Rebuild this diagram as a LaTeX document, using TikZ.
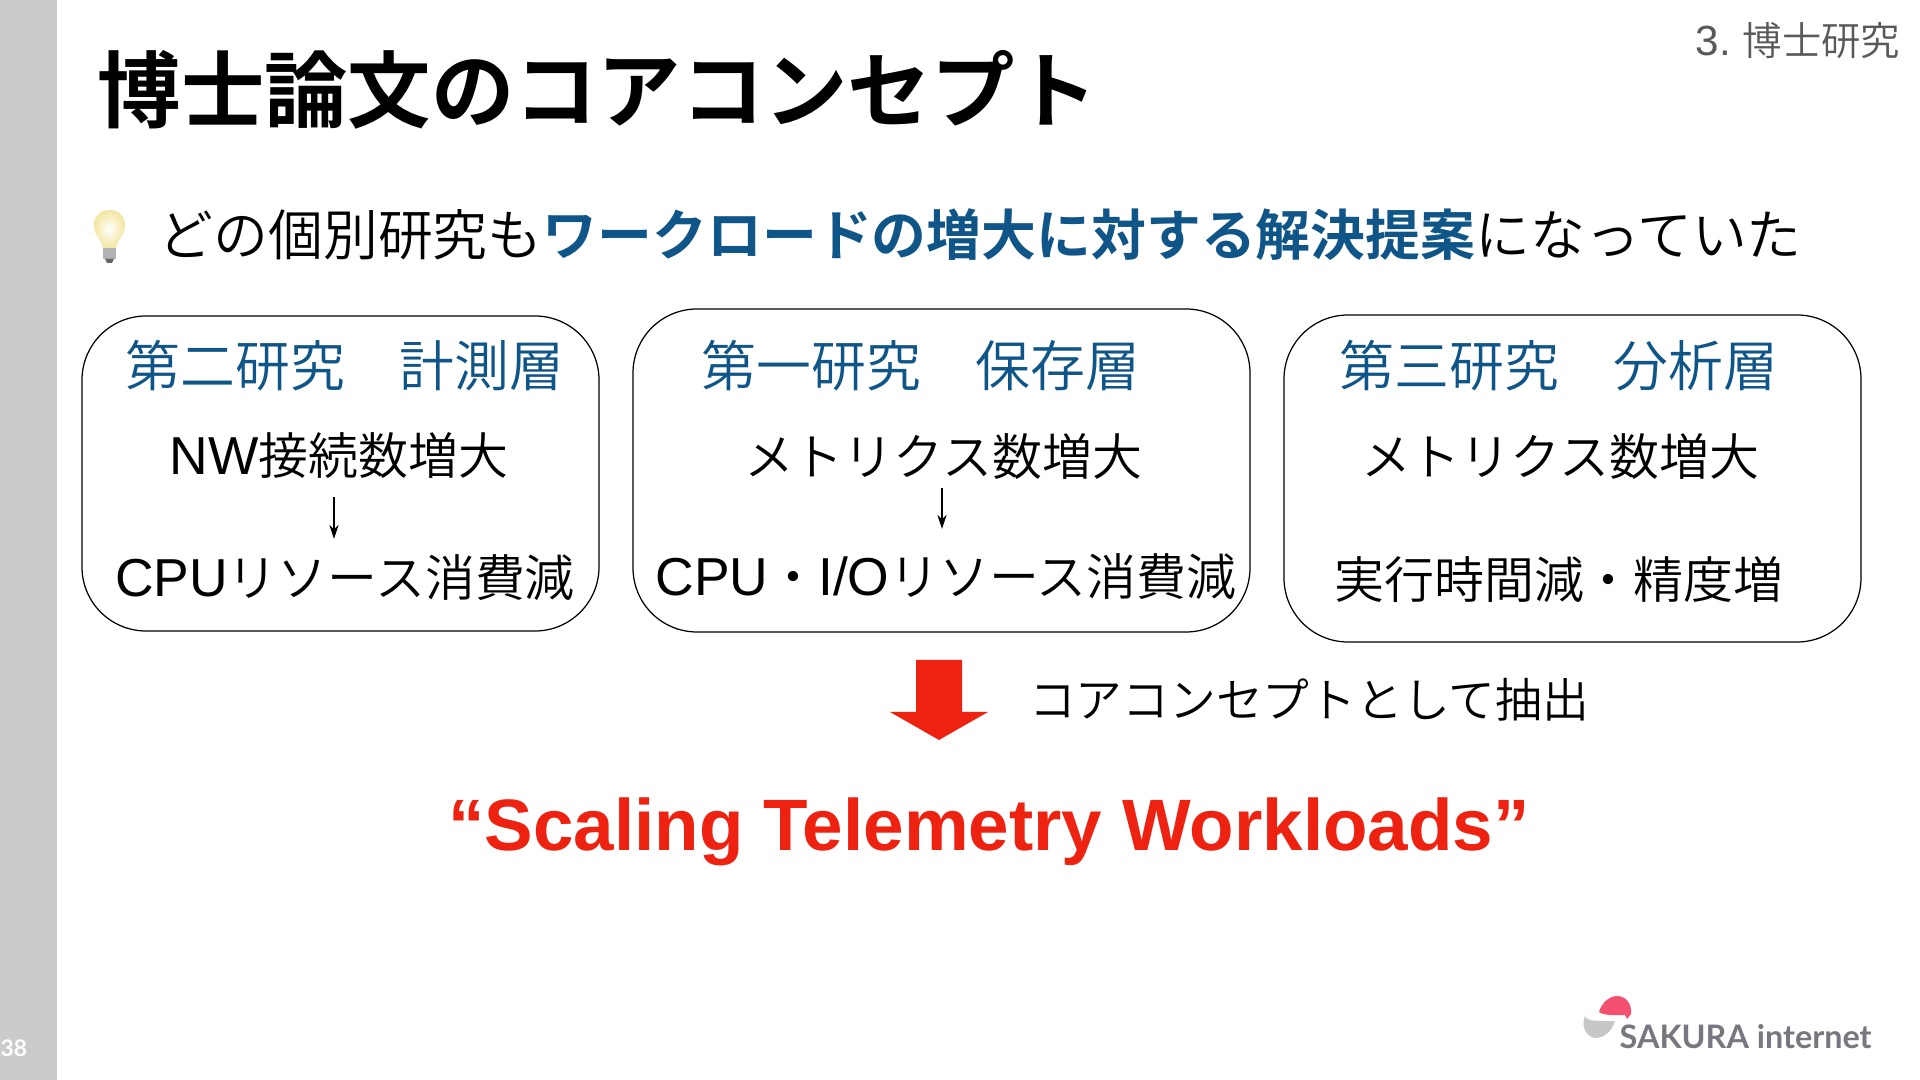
\documentclass[tikz,border=0pt]{standalone}
\usepackage{fontspec}
\setmainfont{Noto Sans CJK JP DemiLight}
\newfontfamily\medjp{Noto Sans CJK JP Medium}
\newfontfamily\boldjp{Noto Sans CJK JP Bold}
\newfontfamily\lat[Scale=1.07]{Liberation Sans}
\newfontfamily\latb{Liberation Sans}
\newfontfamily\logofont{Lato}
\definecolor{deepblue}{HTML}{0F5587}
\definecolor{hotred}{HTML}{EE2211}
\definecolor{sidegray}{HTML}{CBCBCD}
\definecolor{logogray}{HTML}{77777F}
\definecolor{logopink}{HTML}{F45070}
\definecolor{bulbedge}{HTML}{F3E6A0}
\definecolor{bulbmid}{HTML}{FDF9DC}
\newcommand{\fs}[1]{\fontsize{#1}{#1}\selectfont}
\usetikzlibrary{arrows.meta}
\tikzset{
  card/.style={draw=black,line width=0.35pt,rounded corners=0.64cm},
  headtxt/.style={inner sep=0pt,text=deepblue,font=\fs{15.6}},
  bodytxt/.style={inner sep=0pt,text=black,font=\fs{14.2}},
  thinarrow/.style={draw=black,line width=0.4pt,-{Stealth[length=4pt,width=2.6pt]}}
}
\begin{document}
\begin{tikzpicture}[x=0.01cm,y=-0.01cm]
\useasboundingbox (0,0) rectangle (1920,1080);
\fill[white] (0,0) rectangle (1920,1080);
\fill[sidegray] (0,0) rectangle (57,1080);
\node[inner sep=0pt,text=white,font=\logofont\bfseries\fs{6.5}] (pagenum) at (14,1048) {38};
\node[inner sep=0pt,anchor=west,font=\boldjp\fs{23.7}] (title) at (97,90) {博士論文のコアコンセプト};
\node[inner sep=0pt,anchor=east,text=black!65,font=\fs{11.2}] (section) at (1901,41) {{\lat 3.} 博士研究};
% bulb
\shade[inner color=white,middle color=bulbmid,outer color=bulbedge]
  (103,248) .. controls (102,240) and (94,236) .. (94,225)
  .. controls (94,216) and (101,210) .. (109.5,210)
  .. controls (118,210) and (125,216) .. (125,225)
  .. controls (125,236) and (117,240) .. (116,248) -- cycle;
\fill[black!30] (103,248) rectangle (116,259);
\fill[black!60] (105,259) -- (114,259) -- (112,263) -- (107,263) -- cycle;
% subtitle
\node[inner sep=0pt,anchor=west,font=\fs{15.6}] (subtitle) at (158,235)
  {どの個別研究も{\boldjp\color{deepblue}ワークロードの増大に対する解決提案}になっていた};
% cards
\draw[card] (82,316) rectangle (599,631);
\draw[card] (633,309) rectangle (1250,632);
\draw[card] (1284,315) rectangle (1861,642);
\node[headtxt] (h1) at (345,366) {第二研究　計測層};
\node[bodytxt] (a1) at (339,456) {{\lat NW}接続数増大};
\node[bodytxt] (b1) at (345,578) {{\lat CPU}リソース消費減};
\node[headtxt] (h2) at (921,366) {第一研究　保存層};
\node[bodytxt] (a2) at (943,457) {メトリクス数増大};
\node[bodytxt] (b2) at (946,577) {{\lat CPU}・{\lat I/O}リソース消費減};
\node[headtxt] (h3) at (1559,366) {第三研究　分析層};
\node[bodytxt] (a3) at (1560,457) {メトリクス数増大};
\node[bodytxt] (b3) at (1559,580) {実行時間減・精度増};
\coordinate (s1) at (334,497); \coordinate (e1) at (334,539);
\coordinate (s2) at (942,488); \coordinate (e2) at (942,529);
\draw[thinarrow] (s1) -- (e1);
\draw[thinarrow] (s2) -- (e2);
% big arrow
\fill[hotred] (916,660) -- (962,660) -- (962,712) -- (988,712) -- (939,740) -- (890,712) -- (916,712) -- cycle;
\node[inner sep=0pt,font=\fs{13.3}] (extract) at (1309,700) {コアコンセプトとして抽出};
\node[inner sep=0pt,text=hotred,font=\latb\bfseries\fs{20.7}] (core) at (989,832) {“Scaling Telemetry Workloads”};
% logo
\fill[logopink] (1599,1012) .. controls (1602,1002) and (1610,996) .. (1617,996)
  .. controls (1626,996) and (1632,1004) .. (1631,1014)
  -- (1627,1019) -- (1625,1015) .. controls (1615,1015) and (1605,1016) .. (1599,1012) -- cycle;
\fill[black!22] (1585,1016) .. controls (1587,1022) and (1600,1021) .. (1615,1021)
  .. controls (1612,1031) and (1604,1038) .. (1596,1038)
  .. controls (1588,1038) and (1580,1028) .. (1585,1016) -- cycle;
\node[inner sep=0pt,anchor=west,text=logogray,font=\logofont\bfseries\fs{9.2}] (logo) at (1619,1037) {SAKURA internet};
\end{tikzpicture}
\end{document}
